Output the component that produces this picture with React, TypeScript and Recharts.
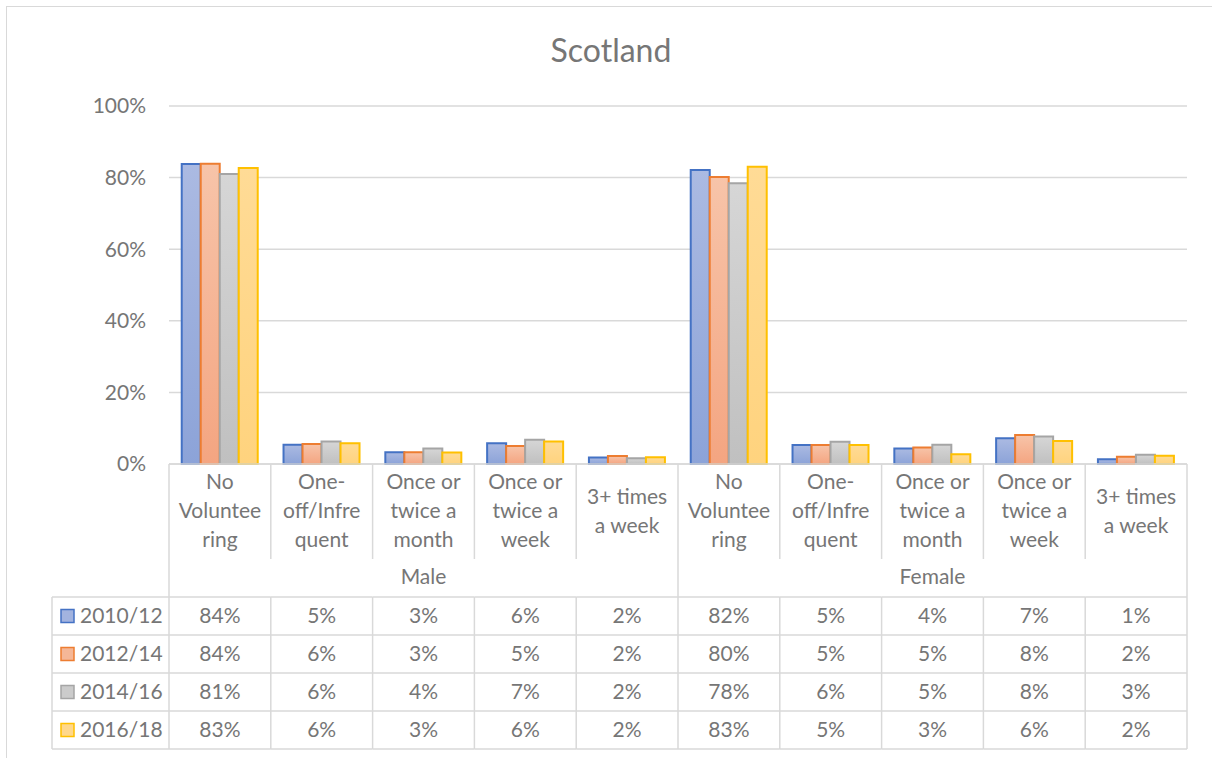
import React from 'react';
import { BarChart, Bar, XAxis, YAxis, CartesianGrid } from 'recharts';

const categories = [
  'No Volunteering', 'One-off/Infrequent', 'Once or twice a month', 'Once or twice a week', '3+ times a week',
  'No Volunteering', 'One-off/Infrequent', 'Once or twice a month', 'Once or twice a week', '3+ times a week',
];
const categoryLines = [
  ['No', 'Voluntee', 'ring'], ['One-', 'off/Infre', 'quent'], ['Once or', 'twice a', 'month'], ['Once or', 'twice a', 'week'], ['3+ times', 'a week'],
  ['No', 'Voluntee', 'ring'], ['One-', 'off/Infre', 'quent'], ['Once or', 'twice a', 'month'], ['Once or', 'twice a', 'week'], ['3+ times', 'a week'],
];
const groups = [
  { name: 'Male', start: 0, count: 5 },
  { name: 'Female', start: 5, count: 5 },
];
const seriesNames = ['2010/12', '2012/14', '2014/16', '2016/18'];
const s2010 = [83.8, 5.4, 3.3, 5.8, 1.8, 82.1, 5.3, 4.3, 7.2, 1.3];
const s2012 = [83.9, 5.6, 3.3, 5.0, 2.2, 80.2, 5.3, 4.6, 8.1, 2.0];
const s2014 = [81.0, 6.3, 4.3, 6.8, 1.6, 78.4, 6.2, 5.4, 7.7, 2.6];
const s2016 = [82.7, 5.8, 3.2, 6.3, 1.9, 83.0, 5.3, 2.7, 6.4, 2.3];
const yTicks = [0, 20, 40, 60, 80, 100];

const seriesValues = [s2010, s2012, s2014, s2016];
const seriesStroke = ['#4472C4', '#ED7D31', '#A5A5A5', '#FFC000'];
const seriesTop = ['#ABBAE2', '#F7C4A9', '#D6D6D6', '#FFDB96'];
const seriesBottom = ['#8CA3D8', '#F4A581', '#C0C0C0', '#FFD37E'];
const seriesLegend = ['#A2B3DF', '#F5B797', '#CBCBCB', '#FFD88C'];

const data = categories.map((c, i) => ({
  key: `${i}`,
  name: c,
  v0: s2010[i],
  v1: s2012[i],
  v2: s2014[i],
  v3: s2016[i],
}));

const FONT = 'Lato, "Open Sans", sans-serif';
const TXT = '#767676';
const LINE = '#D9D9D9';
const LW = 1.5;

const LINE_H = 29;
const LABEL_CENTER = 47;
const LABEL_BOTTOM = 95;
const GROUP_CENTER = 113;
const ROW_TOP = 133;
const ROW_H = 38;
const TEXT_SHIFT = -1.5;

const TableTick = (props: any) => {
  const { x, y, payload, width } = props;
  const n = categories.length;
  const i = props.index ?? payload.index;
  const half = payload && payload.offset > 0 ? payload.offset : (width || 1018) / (2 * n);
  const x0 = x - half;
  const x1 = x + half;
  const lines = categoryLines[i];
  const isGroupStart = groups.some((g) => g.start === i);
  const group = groups.find((g) => g.start === i);
  const els: any[] = [];
  const tableBottom = y + ROW_TOP + ROW_H * seriesNames.length;

  if (isGroupStart) {
    els.push(<line key="lb" x1={x0} x2={x0} y1={y} y2={tableBottom} stroke={LINE} strokeWidth={LW} />);
  } else {
    els.push(<line key="lt" x1={x0} x2={x0} y1={y} y2={y + LABEL_BOTTOM} stroke={LINE} strokeWidth={LW} />);
    els.push(<line key="lbt" x1={x0} x2={x0} y1={y + ROW_TOP} y2={tableBottom} stroke={LINE} strokeWidth={LW} />);
  }
  if (i === n - 1) {
    els.push(<line key="rb" x1={x1} x2={x1} y1={y} y2={tableBottom} stroke={LINE} strokeWidth={LW} />);
  }
  for (let r = 0; r <= seriesNames.length; r++) {
    const yy = y + ROW_TOP + r * ROW_H;
    els.push(<line key={`h${r}`} x1={x0} x2={x1} y1={yy} y2={yy} stroke={LINE} strokeWidth={LW} />);
  }
  lines.forEach((t, k) => {
    const cy = y + LABEL_CENTER + (k - (lines.length - 1) / 2) * LINE_H + TEXT_SHIFT;
    els.push(
      <text key={`l${k}`} x={x} y={cy} textAnchor="middle" dominantBaseline="central" fill={TXT} fontSize={21} fontFamily={FONT}>
        {t}
      </text>
    );
  });
  if (group) {
    const gx = x0 + (group.count * 2 * half) / 2;
    els.push(
      <text key="g" x={gx} y={y + GROUP_CENTER + TEXT_SHIFT} textAnchor="middle" dominantBaseline="central" fill={TXT} fontSize={21} fontFamily={FONT}>
        {group.name}
      </text>
    );
  }
  seriesValues.forEach((vals, r) => {
    const cy = y + ROW_TOP + r * ROW_H + ROW_H / 2 + TEXT_SHIFT;
    els.push(
      <text key={`v${r}`} x={x} y={cy} textAnchor="middle" dominantBaseline="central" fill={TXT} fontSize={21} fontFamily={FONT}>
        {`${Math.round(vals[i])}%`}
      </text>
    );
  });
  if (i === 0) {
    const lx = x0 - 117;
    els.push(<line key="legl" x1={lx} x2={lx} y1={y + ROW_TOP} y2={tableBottom} stroke={LINE} strokeWidth={LW} />);
    for (let r = 0; r <= seriesNames.length; r++) {
      const yy = y + ROW_TOP + r * ROW_H;
      els.push(<line key={`lh${r}`} x1={lx} x2={x0} y1={yy} y2={yy} stroke={LINE} strokeWidth={LW} />);
    }
    seriesNames.forEach((s, r) => {
      const cy = y + ROW_TOP + r * ROW_H + ROW_H / 2;
      els.push(
        <rect key={`ls${r}`} x={lx + 9} y={cy - 6.5} width={13} height={13} fill={seriesLegend[r]} stroke={seriesStroke[r]} strokeWidth={1.5} />
      );
      els.push(
        <text key={`lt${r}`} x={lx + 28} y={cy + TEXT_SHIFT} textAnchor="start" dominantBaseline="central" fill={TXT} fontSize={21} fontFamily={FONT}>
          {s}
        </text>
      );
    });
  }
  return <g>{els}</g>;
};

export default function App() {
  return (
    <div style={{ position: 'absolute', left: 0, top: 0, width: 1212, height: 758, background: '#fff', overflow: 'hidden' }}>
      <div
        style={{
          position: 'absolute', left: 6, top: 6, width: 1230, height: 780,
          border: `1.5px solid ${LINE}`, boxSizing: 'border-box',
        }}
      />
      <div
        style={{
          position: 'absolute', left: 6, width: 1210, top: 30, textAlign: 'center',
          fontFamily: FONT, fontSize: 32, color: TXT, lineHeight: '40px',
        }}
      >
        Scotland
      </div>
      <div style={{ position: 'absolute', left: 0, top: 0 }}>
        <BarChart
          width={1212}
          height={758}
          data={data}
          margin={{ top: 106, right: 25, left: 0, bottom: 0 }}
          barCategoryGap="12.5%"
          barGap={0}
        >
          <defs>
            {seriesStroke.map((_, k) => (
              <linearGradient key={k} id={`grad${k}`} x1="0" y1="0" x2="0" y2="1">
                <stop offset="0%" stopColor={seriesTop[k]} />
                <stop offset="100%" stopColor={seriesBottom[k]} />
              </linearGradient>
            ))}
          </defs>
          <CartesianGrid vertical={false} stroke={LINE} strokeWidth={LW} />
          <XAxis
            dataKey="key"
            height={294}
            interval={0}
            tickLine={false}
            tickSize={0}
            tickMargin={0}
            axisLine={{ stroke: LINE, strokeWidth: LW }}
            tick={<TableTick />}
          />
          <YAxis
            width={169}
            domain={[0, 100]}
            ticks={yTicks}
            tickFormatter={(v: number) => `${v}%`}
            axisLine={false}
            tickLine={false}
            tickSize={0}
            tickMargin={23}
            tick={{ fill: TXT, fontSize: 21, fontFamily: FONT }}
          />
          {seriesNames.map((s, k) => (
            <Bar
              key={s}
              dataKey={`v${k}`}
              name={s}
              fill={`url(#grad${k})`}
              stroke={seriesStroke[k]}
              strokeWidth={2}
              isAnimationActive={false}
            />
          ))}
        </BarChart>
      </div>
    </div>
  );
}
